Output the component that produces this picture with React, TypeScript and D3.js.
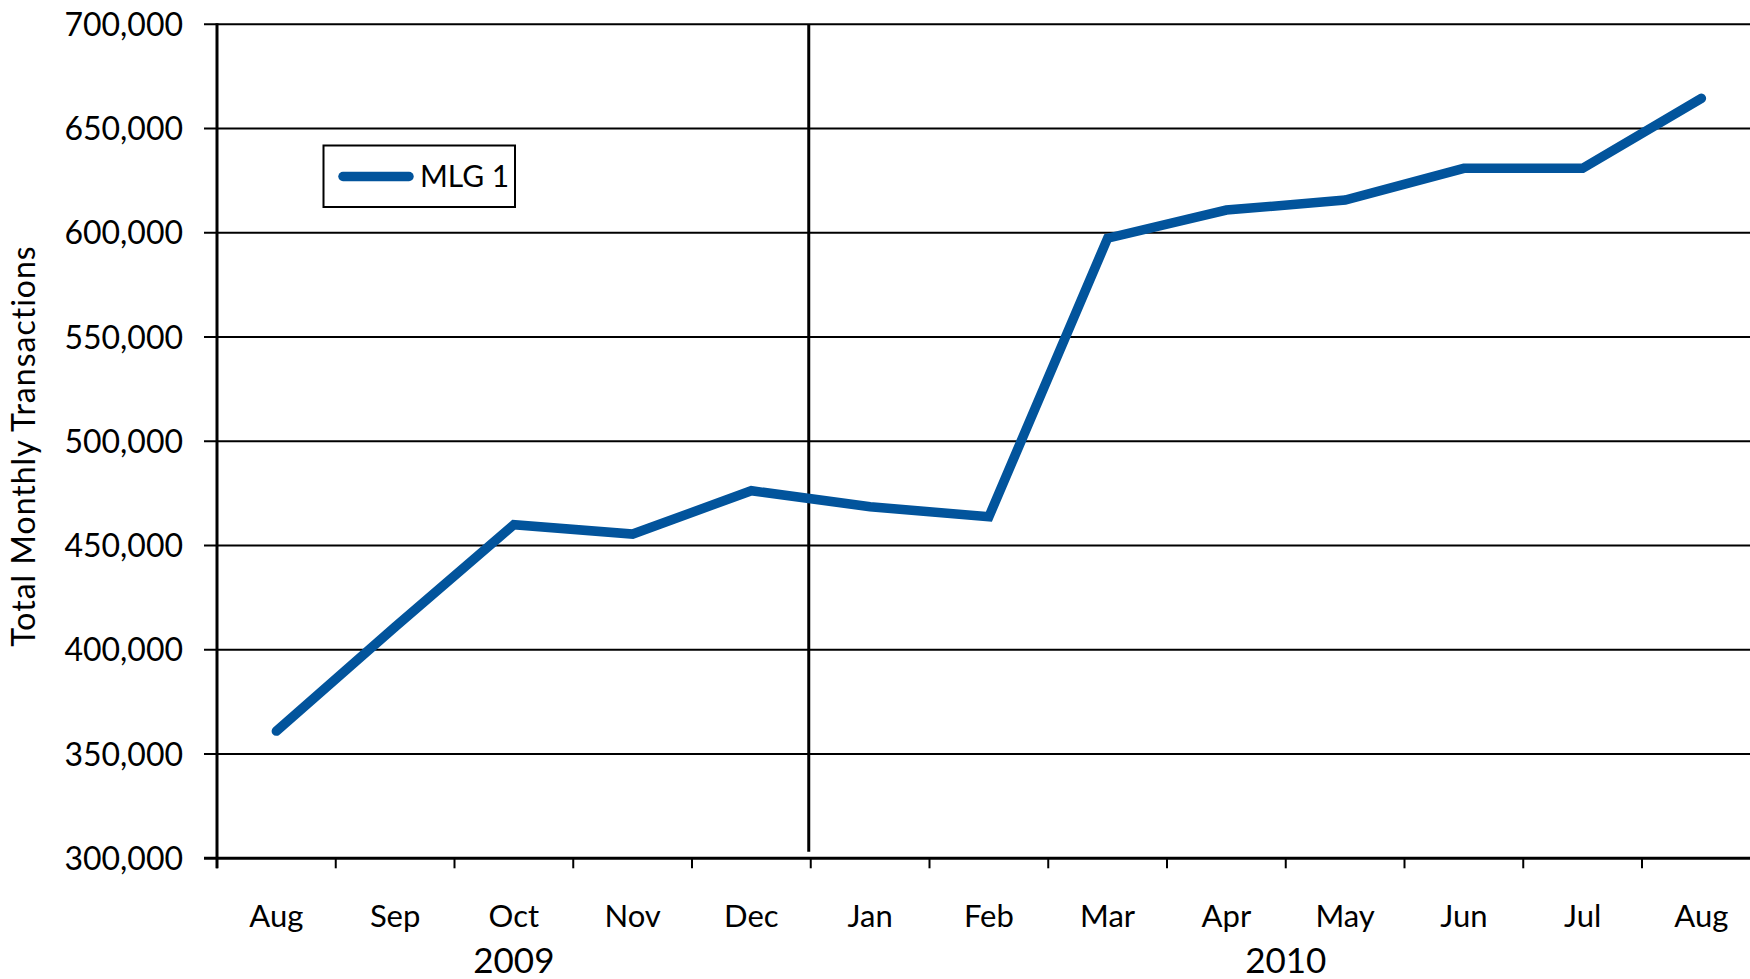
import React, { useEffect, useRef } from "react";
import * as d3 from "d3";

const months = ["Aug", "Sep", "Oct", "Nov", "Dec", "Jan", "Feb", "Mar", "Apr", "May", "Jun", "Jul", "Aug"];
const years = ["2009", "2009", "2009", "2009", "2009", "2010", "2010", "2010", "2010", "2010", "2010", "2010", "2010"];
const mlg1 = [361000, 411000, 460000, 455500, 476300, 468600, 463800, 597400, 610900, 615700, 630900, 630900, 664500];
const yTicks = [300000, 350000, 400000, 450000, 500000, 550000, 600000, 650000, 700000];
const seriesName = "MLG 1";
const yTitle = "Total Monthly Transactions";

const W = 1750;
const H = 979;
const FONT = "Lato, 'Open Sans', sans-serif";
const BLUE = "#02549C";

const App = () => {
  const svgRef = useRef<SVGSVGElement>(null);

  useEffect(() => {
    const svg = d3.select(svgRef.current);
    svg.selectAll("*").remove();

    const left = 217;
    const top = 24.3;
    const bottom = 858.3;
    const idx = months.map((m, i) => i);

    const x = d3.scaleBand<number>().domain(idx).range([left, left + 13 * 118.75]);
    const y = d3.scaleLinear().domain([300000, 700000]).range([bottom, top]);

    // horizontal gridlines + tick stubs on the left
    svg
      .selectAll(".grid")
      .data(yTicks.slice(1))
      .join("line")
      .attr("x1", left - 13)
      .attr("x2", W)
      .attr("y1", (d) => y(d))
      .attr("y2", (d) => y(d))
      .attr("stroke", "#000")
      .attr("stroke-width", 2);

    // y labels
    svg
      .selectAll(".ylab")
      .data(yTicks)
      .join("text")
      .attr("x", 183)
      .attr("y", (d) => y(d))
      .attr("dy", "0.36em")
      .attr("text-anchor", "end")
      .attr("font-family", FONT)
      .attr("font-size", 32)
      .attr("fill", "#000")
      .text((d) => d3.format(",")(d));

    // year separator
    const sepX = x(5)! - 2;
    svg
      .append("line")
      .attr("x1", sepX)
      .attr("x2", sepX)
      .attr("y1", top)
      .attr("y2", bottom - 6.5)
      .attr("stroke", "#000")
      .attr("stroke-width", 3);

    // x ticks
    const tickPos = idx.map((i) => x(i)!);
    svg
      .selectAll(".xtick")
      .data(tickPos)
      .join("line")
      .attr("x1", (d) => d)
      .attr("x2", (d) => d)
      .attr("y1", bottom)
      .attr("y2", bottom + 10)
      .attr("stroke", "#000")
      .attr("stroke-width", 2);

    // axes
    svg
      .append("line")
      .attr("x1", left)
      .attr("x2", left)
      .attr("y1", top - 1)
      .attr("y2", bottom + 10)
      .attr("stroke", "#000")
      .attr("stroke-width", 3);
    svg
      .append("line")
      .attr("x1", left - 13)
      .attr("x2", W)
      .attr("y1", bottom)
      .attr("y2", bottom)
      .attr("stroke", "#000")
      .attr("stroke-width", 3);

    // month labels
    svg
      .selectAll(".xlab")
      .data(months)
      .join("text")
      .attr("x", (d, i) => x(i)! + x.bandwidth() / 2)
      .attr("y", 927)
      .attr("text-anchor", "middle")
      .attr("font-family", FONT)
      .attr("font-size", 31)
      .attr("fill", "#000")
      .text((d) => d);

    // year labels
    const yearGroups = d3.groups(idx, (i) => years[i]);
    svg
      .selectAll(".yearlab")
      .data(yearGroups)
      .join("text")
      .attr("x", ([, ids]) => (x(ids[0])! + x(ids[ids.length - 1])! + x.bandwidth()) / 2)
      .attr("y", 973)
      .attr("text-anchor", "middle")
      .attr("font-family", FONT)
      .attr("font-size", 35)
      .attr("fill", "#000")
      .text(([yr]) => yr);

    // y axis title
    svg
      .append("text")
      .attr("transform", "translate(35,446) rotate(-90)")
      .attr("text-anchor", "middle")
      .attr("font-family", FONT)
      .attr("font-size", 32)
      .attr("letter-spacing", 1)
      .attr("fill", "#000")
      .text(yTitle);

    // series line
    const line = d3
      .line<number>()
      .x((d, i) => x(i)! + x.bandwidth() / 2)
      .y((d) => y(d));
    svg
      .append("path")
      .datum(mlg1)
      .attr("d", line)
      .attr("fill", "none")
      .attr("stroke", BLUE)
      .attr("stroke-width", 9.5)
      .attr("stroke-linecap", "round")
      .attr("stroke-linejoin", "miter");

    // legend
    const lg = svg.append("g");
    lg.append("rect")
      .attr("x", 323.5)
      .attr("y", 145.5)
      .attr("width", 191.5)
      .attr("height", 61.5)
      .attr("fill", "#fff")
      .attr("stroke", "#000")
      .attr("stroke-width", 2);
    lg.append("line")
      .attr("x1", 343)
      .attr("x2", 409)
      .attr("y1", 176.5)
      .attr("y2", 176.5)
      .attr("stroke", BLUE)
      .attr("stroke-width", 9.5)
      .attr("stroke-linecap", "round");
    lg.append("text")
      .attr("x", 420)
      .attr("y", 187)
      .attr("font-family", FONT)
      .attr("font-size", 30)
      .attr("fill", "#000")
      .text(seriesName);
  }, []);

  return (
    <svg
      ref={svgRef}
      width={W}
      height={H}
      style={{ position: "absolute", left: 0, top: 0, background: "#fff" }}
    />
  );
};

export default App;
